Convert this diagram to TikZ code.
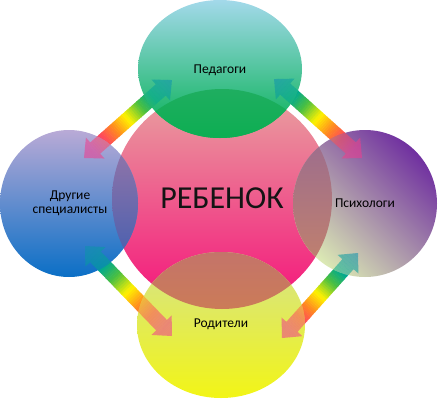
\documentclass[tikz,border=0pt]{standalone}
\usepackage{fontspec}
\setmainfont{Carlito}
\usetikzlibrary{calc}
\definecolor{pinkT}{HTML}{E8A4A0}
\definecolor{pinkB}{HTML}{F5127A}
\definecolor{grnT}{HTML}{A3D9EA}
\definecolor{grnB}{HTML}{00B050}
\definecolor{lavT}{HTML}{B9AAD6}
\definecolor{lavB}{HTML}{0A6FC6}
\definecolor{yelT}{HTML}{D4E28E}
\definecolor{yelB}{HTML}{F2F516}
\definecolor{purA}{HTML}{7030A0}
\definecolor{purM}{HTML}{A08AA8}
\definecolor{purB}{HTML}{DCEAB4}
\definecolor{lgT}{HTML}{3FAF7A}
\definecolor{lgB}{HTML}{0DAE52}
\definecolor{llT}{HTML}{9E78A8}
\definecolor{llB}{HTML}{3C5CB0}
\definecolor{lrT}{HTML}{9A6C90}
\definecolor{lrB}{HTML}{C4826A}
\definecolor{lyT}{HTML}{C4746A}
\definecolor{lyB}{HTML}{D6873A}
\definecolor{rb0}{HTML}{F03C90}
\definecolor{rb1}{HTML}{FF4A5A}
\definecolor{rb2}{HTML}{FF8A20}
\definecolor{rb3}{HTML}{FFF200}
\definecolor{rb4}{HTML}{4CC040}
\definecolor{rb5}{HTML}{00A890}
\definecolor{rb6}{HTML}{1090B0}
% #1 pink end, #2 teal end, #3 opacity, #4 strip overlap
\newcommand\rbarrow[4]{%
  \path let \p1=(#1), \p2=(#2) in \pgfextra{%
    \pgfmathparse{atan2(\y2-\y1,\x2-\x1)}\xdef\Arang{\pgfmathresult}%
    \pgfmathparse{veclen(\x2-\x1,\y2-\y1)}\xdef\Arlen{\pgfmathresult}};
  \begin{scope}[shift={(#1)}, rotate=\Arang, x=1pt, y=1pt, fill opacity=#3]
    \clip (0,0) -- (15,14) -- (15,7.5) -- (\Arlen-15,7.5) -- (\Arlen-15,14)
      -- (\Arlen,0) -- (\Arlen-15,-14) -- (\Arlen-15,-7.5) -- (15,-7.5)
      -- (15,-14) -- cycle;
    \foreach \ca/\cb/\fa/\fb in {rb0/rb0/0/0.1, rb0/rb1/0.1/0.24, rb1/rb2/0.24/0.36, rb2/rb3/0.36/0.5,
        rb3/rb4/0.5/0.65, rb4/rb5/0.65/0.78, rb5/rb6/0.78/1.0} {
      \foreach \j in {0,...,7} {
        \pgfmathsetmacro\pa{(\fa+(\fb-\fa)*\j/8)*\Arlen}
        \pgfmathsetmacro\pb{(\fa+(\fb-\fa)*(\j+1)/8)*\Arlen+#4}
        \pgfmathtruncatemacro\mx{100*(\j+0.5)/8}
        \fill[\cb!\mx!\ca] (\pa,-20) rectangle (\pb,20);
      }
    }
  \end{scope}}
\tikzset{
  lbl/.style={font=\fontsize{13.5}{16}\selectfont, text=black, align=center},
}
\begin{document}
\begin{tikzpicture}[x=1pt, y=-1pt]
\useasboundingbox (0,0) rectangle (440,400);
% arrow end points
\coordinate (a1p) at (84,158);  \coordinate (a1t) at (172,80);
\coordinate (a2p) at (362,158); \coordinate (a2t) at (274,79);
\coordinate (a3p) at (172,336); \coordinate (a3t) at (85,246);
\coordinate (a4p) at (282,338); \coordinate (a4t) at (358,253);
% centre circle
\shade[top color=pinkT, bottom color=pinkB] (222,199) circle [radius=110];
% arrows
\rbarrow{a1p}{a1t}{1}{0.4}
\rbarrow{a2p}{a2t}{1}{0.4}
\rbarrow{a3p}{a3t}{1}{0.4}
\rbarrow{a4p}{a4t}{1}{0.4}
% satellites
\shade[top color=grnT, bottom color=grnB] (220,69) ellipse [x radius=82, y radius=69];
\shade[top color=lavT, bottom color=lavB] (69,203.5) ellipse [x radius=69, y radius=73.5];
\shade[top color=purA, middle color=purM, bottom color=purB, shading angle=-45] (365,203.5) ellipse [x radius=72, y radius=73.5];
\shade[top color=yelT, bottom color=yelB] (221,325) ellipse [x radius=84, y radius=73];
% arrows seen through the satellites
\begin{scope}
  \clip (220,69) ellipse [x radius=82, y radius=69]
        (69,203.5) ellipse [x radius=69, y radius=73.5]
        (365,203.5) ellipse [x radius=72, y radius=73.5]
        (221,325) ellipse [x radius=84, y radius=73];
  \rbarrow{a1p}{a1t}{0.55}{0}
  \rbarrow{a2p}{a2t}{0.55}{0}
  \rbarrow{a3p}{a3t}{0.55}{0}
  \rbarrow{a4p}{a4t}{0.55}{0}
\end{scope}
% overlaps with the centre circle
\begin{scope}
  \clip (222,199) circle [radius=110];
  \shade[top color=lgT, bottom color=lgB] (220,69) ellipse [x radius=82, y radius=69];
  \shade[top color=llT, bottom color=llB] (69,203.5) ellipse [x radius=69, y radius=73.5];
  \shade[top color=lrT, bottom color=lrB] (365,203.5) ellipse [x radius=72, y radius=73.5];
  \shade[top color=lyT, bottom color=lyB] (221,325) ellipse [x radius=84, y radius=73];
\end{scope}
% texts
\node[font=\fontsize{32}{38}\selectfont, text=black!92] (child) at (222,198) {РЕБЕНОК};
\node[lbl] (ped) at (220,70) {Педагоги};
\node[lbl] (oth) at (70,203) {Другие\\[-2pt]специалисты};
\node[lbl] (psy) at (365,203) {Психологи};
\node[lbl] (par) at (221,324) {Родители};
\end{tikzpicture}
\end{document}
